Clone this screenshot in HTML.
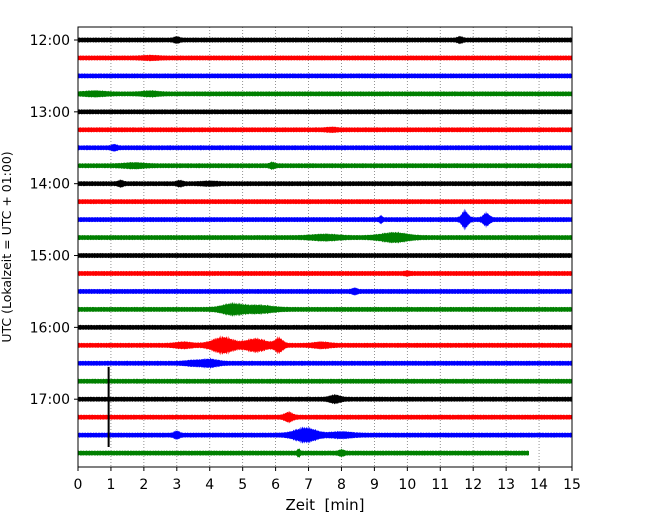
<!DOCTYPE html>
<html><head><meta charset="utf-8"><style>
html,body{margin:0;padding:0;background:#fff}
svg text{font-family:"DejaVu Sans","Liberation Sans",sans-serif;fill:#000}
</style></head><body>
<svg id="chart" width="650" height="520" viewBox="0 0 650 520" xmlns="http://www.w3.org/2000/svg">
<rect x="0" y="0" width="650" height="520" fill="#fff"/>
<g id="grid"></g>
<g id="traces"></g>
<rect x="78" y="27" width="494" height="440" fill="none" stroke="#000" stroke-width="1"/>
<g id="axes"></g>
<text x="325" y="510" font-size="15" text-anchor="middle" xml:space="preserve">Zeit  [min]</text>
<text transform="translate(11,247) rotate(-90)" font-size="12.5" text-anchor="middle">UTC (Lokalzeit = UTC + 01:00)</text>
</svg>
<script>
const xTicks=[0,1,2,3,4,5,6,7,8,9,10,11,12,13,14,15];
const hourLabels=["12:00","13:00","14:00","15:00","16:00","17:00"];
const traceColors=["#000000","#ff0000","#0000ff","#008000"];
const traceCount=24;
const traceEnd=[15,15,15,15,15,15,15,15,15,15,15,15,15,15,15,15,15,15,15,15,15,15,15,13.7];
const baseAmp=[2,2,2,2,2,2,2,2,2,2,2,2,2,2,2,2,2,2,2,2,2,2,2,2];
// events: [trace, centre minute, width minute, amplitude]
const events=[[0,3,0.1,2],[0,11.6,0.1,2],[1,2.2,0.3,1],[3,0.5,0.4,1.5],[3,2.2,0.3,1.5],
[5,7.7,0.2,1],[6,1.1,0.1,2],[7,1.7,0.4,1.5],[7,5.9,0.1,2],[8,1.3,0.1,2],[8,3.1,0.1,2],[8,4,0.3,1],
[10,9.2,0.05,3],[10,11.75,0.12,9],[10,12.4,0.12,6],[11,7.5,0.5,2],[11,9.6,0.5,4],[13,10,0.1,1],[14,8.4,0.1,2],
[15,4.7,0.4,5],[15,5.5,0.5,3],[17,3.2,0.3,2],[17,4.4,0.4,8],[17,5.4,0.4,6],[17,6.1,0.15,7],[17,7.4,0.3,2],
[18,4,0.3,3],[18,3.5,0.3,1.5],[20,7.8,0.2,3],[21,6.4,0.15,4],[22,3,0.1,3],[22,6.9,0.4,7],[22,8,0.4,2],[23,6.7,0.05,3],[23,8,0.1,2]];
const spike=[0.93,18.2,22.66];
const NS="http://www.w3.org/2000/svg";
const xS=m=>78+m*(494/15);
const yS=i=>40+i*17.96;
const grid=document.getElementById('grid'),axes=document.getElementById('axes'),tr=document.getElementById('traces');
xTicks.forEach(t=>{
 if(t>0&&t<15){const l=document.createElementNS(NS,'line');
 
 
 l.setAttribute('x1',xS(t));l.setAttribute('x2',xS(t));l.setAttribute('y1',27);l.setAttribute('y2',467);
 l.setAttribute('stroke','#777');l.setAttribute('stroke-width','0.8');l.setAttribute('stroke-dasharray','1,2');grid.appendChild(l);}
 const k=document.createElementNS(NS,'line');
 
 
 k.setAttribute('x1',xS(t));k.setAttribute('x2',xS(t));k.setAttribute('y1',467);k.setAttribute('y2',471);k.setAttribute('stroke','#000');axes.appendChild(k);
 const tx=document.createElementNS(NS,'text');
 
 
 tx.setAttribute('x',xS(t));tx.setAttribute('y',489);tx.setAttribute('font-size','14');tx.setAttribute('text-anchor','middle');tx.textContent=t;axes.appendChild(tx);
});
hourLabels.forEach((h,j)=>{
 const y=yS(j*4);
 const k=document.createElementNS(NS,'line');
 
 
 k.setAttribute('x1',74);k.setAttribute('x2',78);k.setAttribute('y1',y);k.setAttribute('y2',y);k.setAttribute('stroke','#000');axes.appendChild(k);
 const tx=document.createElementNS(NS,'text');
 
 
 tx.setAttribute('x',70);tx.setAttribute('y',y+5);tx.setAttribute('font-size','14');tx.setAttribute('text-anchor','end');tx.textContent=h;axes.appendChild(tx);
});
for(let i=0;i<traceCount;i++){
 const evs=events.filter(e=>e[0]===i);
 const top=[],bot=[];
 for(let m=0;m<=traceEnd[i]+1e-9;m+=0.015){
  let a=baseAmp[i]+0.7*Math.abs(Math.sin(m*37.3+i*1.7)*Math.sin(m*91.1+i));
  evs.forEach(e=>{const d=(m-e[1])/e[2];a+=e[3]*Math.exp(-d*d)*(0.55+0.45*Math.abs(Math.sin(m*153+i)*Math.cos(m*71)));});
  top.push(xS(m).toFixed(1)+','+(yS(i)-a).toFixed(1));
  bot.unshift(xS(m).toFixed(1)+','+(yS(i)+a).toFixed(1));
 }
 const p=document.createElementNS(NS,'polygon');
 
 
 p.setAttribute('points',top.concat(bot).join(' '));
 p.setAttribute('fill',traceColors[i%4]);
 tr.appendChild(p);
}
const sp=document.createElementNS(NS,'line');


sp.setAttribute('x1',xS(spike[0]));sp.setAttribute('x2',xS(spike[0]));sp.setAttribute('y1',yS(spike[1]));sp.setAttribute('y2',yS(spike[2]));
sp.setAttribute('stroke','#000');sp.setAttribute('stroke-width','2');tr.appendChild(sp);
</script>
</body></html>
